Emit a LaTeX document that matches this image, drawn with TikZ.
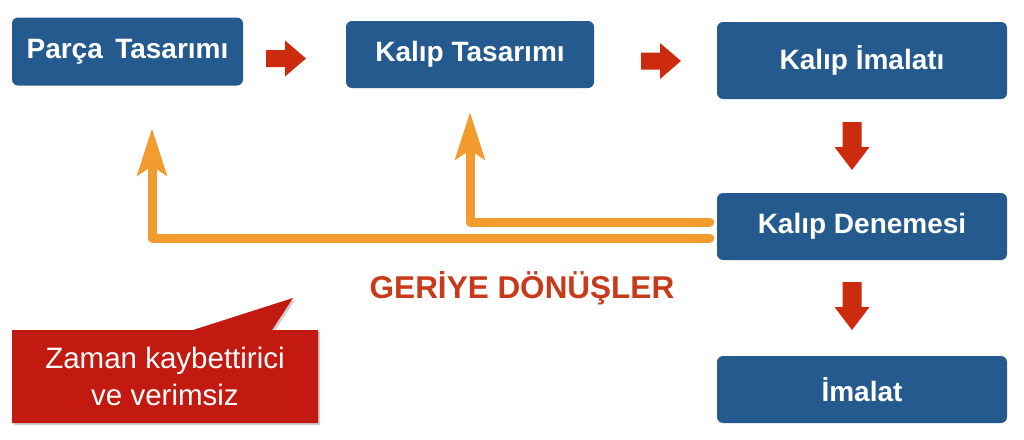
\documentclass[tikz,border=0pt]{standalone}
\usepackage{fontspec}
\setmainfont{Liberation Sans}
\usetikzlibrary{arrows.meta,shadows,calc}
\definecolor{boxblue}{HTML}{245A8E}
\definecolor{arrred}{HTML}{CC2B0E}
\definecolor{retorange}{HTML}{F29B2E}
\definecolor{calred}{HTML}{C21A10}
\definecolor{txtred}{HTML}{C83A1A}
\tikzset{
  stepbox/.style={fill=boxblue, rounded corners=6pt, text=white, inner sep=0pt,
    font=\fontsize{28}{32}\selectfont\bfseries},
  flowarrow/.style={fill=arrred, draw=none},
  rar/.pic={\fill[flowarrow] (0,-8.5) -- (19,-8.5) -- (19,-18) -- (40,0) -- (19,18) -- (19,8.5) -- (0,8.5) -- cycle;},
  dar/.pic={\fill[flowarrow] (-9.5,0) -- (-9.5,25) -- (-17.5,25) -- (0,48) -- (17.5,25) -- (9.5,25) -- (9.5,0) -- cycle;},
  back/.style={draw=retorange, line width=9pt, line join=round, line cap=round,
    -{Stealth[length=47pt, width=29pt, inset=9pt, line cap=butt]}},
  calloutbox/.style={fill=calred, drop shadow={shadow xshift=2pt, shadow yshift=-2pt, opacity=0.4}},
}
\begin{document}
\begin{tikzpicture}[x=1pt, y=-1pt]
\useasboundingbox (0,0) rectangle (1024,439);
% boxes
\node[stepbox, minimum width=231pt, minimum height=68pt] (parca) at (127.5,51.5) {Parça\, Tasarımı};
\node[stepbox, minimum width=248pt, minimum height=67pt] (kalip) at (470,54.5) {Kalıp Tasarımı};
\node[stepbox, minimum width=290pt, minimum height=77pt] (imal) at (862,60.5) {Kalıp İmalatı};
\node[stepbox, minimum width=290pt, minimum height=67pt] (deneme) at (862,226.5) {Kalıp Denemesi};
\node[stepbox, minimum width=290pt, minimum height=67pt] (imalat) at (862,389.5) {İmalat};
% red flow arrows
\pic at (266,58.5) {rar};
\pic at (641,61) {rar};
\pic at (852,122) {dar};
\pic at (852,282) {dar};
% return arrows
\coordinate (tip1) at (152,128);
\coordinate (tip2) at (470,112);
\draw[back] ($(deneme.west)+(-7,-4.5)$) -| (tip2);
\draw[back] ($(deneme.west)+(-7,11.5)$) -| (tip1);
% label
\node[text=txtred, font=\fontsize{31.5}{34}\selectfont\bfseries] (geri) at (522,288) {GERİYE DÖNÜŞLER};
% callout
\path[calloutbox] (12,330) -- (193,330) -- (293,298) -- (272,330) -- (318,330) -- (318,423) -- (12,423) -- cycle;
\node[text=white, align=center, font=\fontsize{29.5}{37}\selectfont] (zaman) at (165,376.5) {Zaman kaybettirici\\ve verimsiz};
\end{tikzpicture}
\end{document}
